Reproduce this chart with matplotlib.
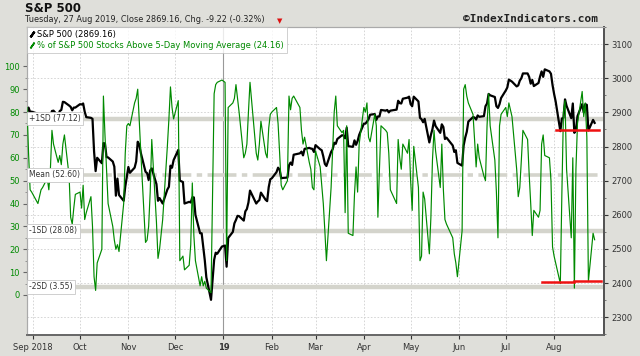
import numpy as np
import pandas as pd
import matplotlib as mpl
mpl.use('Agg')
import matplotlib.pyplot as plt
import matplotlib.dates as mdates
import matplotlib.transforms as mtransforms
from matplotlib.lines import Line2D

# trading days Aug 28 2018 .. Aug 27 2019
holidays = ['2018-09-03', '2018-11-22', '2018-12-05', '2018-12-25', '2019-01-01',
            '2019-01-21', '2019-02-18', '2019-04-19', '2019-05-27', '2019-07-04']

spx_close = [
    2898, 2914, 2901, 2902,  # aug
    2896, 2888, 2878, 2872, 2877, 2888, 2889, 2904, 2905, 2889, 2904, 2907, 2931, 2930, 2920, 2916, 2906, 2914, 2914,
    2924, 2923, 2926, 2902, 2886, 2884, 2881, 2786, 2728, 2767, 2751, 2810, 2809, 2769, 2768, 2756, 2741, 2656, 2706, 2658, 2641, 2682, 2712,
    2740, 2723, 2738, 2756, 2814, 2806, 2781, 2726, 2722, 2702, 2730, 2736, 2690, 2641, 2649, 2633, 2674, 2682, 2744, 2738, 2760,
    2790, 2700, 2696, 2633, 2638, 2636, 2651, 2651, 2600, 2546, 2546, 2507, 2467, 2417, 2351, 2468, 2489, 2486, 2507,
    2510, 2448, 2532, 2550, 2575, 2585, 2597, 2596, 2583, 2610, 2617, 2636, 2671, 2633, 2639, 2643, 2665, 2644, 2640, 2681, 2704,
    2707, 2725, 2738, 2732, 2707, 2708, 2709, 2745, 2753, 2746, 2776, 2780, 2785, 2774, 2793, 2796, 2794, 2793, 2784,
    2804, 2792, 2789, 2771, 2749, 2743, 2784, 2792, 2811, 2808, 2822, 2833, 2832, 2824, 2855, 2801, 2799, 2818, 2805, 2816, 2834,
    2867, 2867, 2873, 2880, 2893, 2895, 2878, 2888, 2888, 2907, 2905, 2907, 2900, 2905, 2908, 2934, 2927, 2926, 2940, 2943, 2946,
    2924, 2918, 2946, 2932, 2884, 2880, 2871, 2881, 2812, 2834, 2851, 2876, 2860, 2840, 2865, 2857, 2822, 2826, 2803, 2784, 2789, 2752,
    2744, 2803, 2826, 2843, 2873, 2886, 2885, 2879, 2891, 2887, 2889, 2918, 2926, 2954, 2950, 2945, 2918, 2913, 2924, 2942,
    2964, 2973, 2996, 2990, 2976, 2979, 2993, 3000, 3014, 3014, 3004, 2984, 2995, 2977, 2986, 3005, 3020, 3004, 3026, 3020, 3013, 2980,
    2954, 2932, 2845, 2882, 2884, 2938, 2919, 2883, 2926, 2840, 2848, 2889, 2924, 2900, 2924, 2922, 2847, 2878, 2869.16,
]

pct_above_5dma = [
    82, 62, 46, 45,
    40, 43, 46, 47, 51, 46, 55, 72, 66, 58, 61, 57, 66, 70, 52, 34, 31, 38, 44,
    45, 38, 48, 33, 36, 43, 30, 8, 2, 14, 20, 87, 70, 55, 40, 30, 24, 20, 22, 19, 40, 62, 74,
    75, 74, 84, 86, 90, 76, 62, 23, 24, 30, 45, 68, 32, 16, 20, 33, 65, 77, 91, 82, 77,
    85, 15, 17, 11, 13, 22, 49, 26, 15, 4, 8, 4, 6, 3, 1, 88, 92, 93, 94,
    93, 15, 82, 84, 86, 92, 86, 80, 60, 62, 66, 80, 93, 62, 59, 66, 76, 62, 60, 73, 79,
    80, 82, 75, 62, 48, 46, 50, 87, 81, 86, 87, 82, 72, 66, 69, 58, 55, 47, 46,
    63, 56, 48, 40, 28, 15, 47, 64, 80, 87, 74, 71, 72, 36, 74, 27, 26, 44, 56, 45, 66,
    82, 80, 84, 69, 67, 79, 74, 34, 55, 74, 72, 71, 62, 46, 40, 68, 60, 55, 66, 62, 68,
    50, 37, 65, 47, 15, 17, 45, 42, 18, 34, 59, 72, 63, 47, 66, 46, 33, 31, 25, 18, 14, 8,
    28, 90, 92, 87, 84, 79, 68, 56, 66, 60, 52, 50, 74, 88, 74, 59, 45, 25, 74, 79,
    82, 78, 84, 78, 55, 43, 47, 59, 72, 68, 53, 40, 26, 37, 34, 37, 66, 70, 61, 60, 50, 21,
    17, 14, 5, 45, 80, 85, 55, 25, 60, 3, 55, 75, 89, 78, 84, 69, 6, 27, 24.16,
]

sd_levels = [77.12, 52.60, 28.08, 3.55]
sd_labels = ['+1SD (77.12)', 'Mean (52.60)', '-1SD (28.08)', '-2SD (3.55)']

month_labels = ['Sep 2018', 'Oct', 'Nov', 'Dec', '19', 'Feb', 'Mar', 'Apr', 'May', 'Jun', 'Jul', 'Aug']

red_top_dates = ['2019-08-02', '2019-08-30']
red_top_level = 2849
red_low_dates = ['2019-07-24', '2019-08-14', '2019-08-31']
red_low_levels = [5.6, 6.1]


def dnum(vals):
    return mdates.date2num(pd.to_datetime(vals).to_pydatetime())


days = pd.bdate_range('2018-08-28', '2019-08-27')
days = days[~days.isin(pd.to_datetime(holidays))]
x = dnum(days)
n = min(len(x), len(spx_close), len(pct_above_5dma))
month_ticks = dnum(pd.date_range('2018-09-01', '2019-08-01', freq='MS'))

GREEN = '#008a00'
fig = plt.figure(figsize=(6.4, 3.56), dpi=100, facecolor='#dfdfda')
ax = fig.add_axes([27/640, 1-335/356, 577/640, 308/356])
ax.set_facecolor('white')
axg = ax.twinx()

# S&P on right-hand scale
ax.plot(x[:n], spx_close[:n], color='black', lw=1.6, zorder=5, solid_joinstyle='round')
ax.set_ylim(2248, 3150)
ax.set_xlim(dnum(['2018-08-28'])[0], dnum(['2019-09-02'])[0])
ax.yaxis.tick_right()
ax.set_yticks(np.arange(2300, 3101, 100))
ax.set_yticks(np.arange(2250, 3151, 50), minor=True)
ax.tick_params(axis='y', which='major', labelsize=6, colors='#333333', length=3, pad=2)
ax.tick_params(axis='y', which='minor', length=1.5, colors='#666666')
ax.set_xticks(month_ticks)
ax.set_xticklabels(month_labels)
ax.tick_params(axis='x', labelsize=6, colors='#333333', length=3, pad=3)
ax.get_xticklabels()[4].set_fontweight('bold')
for i, d in enumerate(month_ticks):
    if month_labels[i] == '19':
        ax.axvline(d, color='#999999', lw=0.8, zorder=1)
    else:
        ax.axvline(d, color='#d0d0d0', lw=0.6, ls=(0, (2, 2)), zorder=1)
for v in np.arange(2300, 3101, 100):
    ax.axhline(v, color='#d0d0d0', lw=0.6, ls=(0, (2, 2)), zorder=1)

# sd bands in green units, but drawn under the black line
band_tr = mtransforms.blended_transform_factory(ax.transAxes, axg.transData)
for lv in sd_levels:
    if lv == 52.60:
        ax.plot([0, 1], [lv, lv], transform=band_tr, color='#d4d4cc', lw=2.6,
                ls=(0, (8, 1.5, 1.5, 1.5)), zorder=2)
    else:
        ax.plot([0, 1], [lv, lv], transform=band_tr, color='#d4d4cc', lw=3.2, zorder=2)

# % above 5 day MA on left scale
axg.plot(x[:n], pct_above_5dma[:n], color=GREEN, lw=0.85, zorder=4)
axg.set_ylim(-17.5, 117.2)
axg.yaxis.tick_left()
axg.set_yticks(np.arange(0, 101, 10))
axg.set_yticks(np.arange(0, 101, 5), minor=True)
axg.tick_params(axis='y', which='major', labelsize=6, colors='#666666', labelcolor=GREEN, length=3, pad=2)
axg.tick_params(axis='y', which='minor', length=1.5, colors='#888888')

for lv, txt in zip(sd_levels, sd_labels):
    axg.text(0.004, lv, txt, transform=band_tr, fontsize=5.5, color='#333333', va='center', ha='left',
             zorder=8, bbox=dict(boxstyle='square,pad=0.3', fc='white', ec='#c8c8c8', lw=0.6))

axg.plot(dnum(red_top_dates), [red_top_level] * 2, color='#ee1111', lw=1.8, transform=ax.transData, zorder=9)
axg.plot(dnum(red_low_dates[:2]), [red_low_levels[0]] * 2, color='#ee1111', lw=1.8, zorder=9)
axg.plot(dnum(red_low_dates[1:]), [red_low_levels[1]] * 2, color='#ee1111', lw=1.8, zorder=9)

for a in (ax, axg):
    for s in a.spines.values():
        s.set_color('#aaaaaa')
        s.set_linewidth(0.8)
    a.spines['right'].set_color('#555555')
    a.spines['right'].set_linewidth(1.4)
    a.spines['bottom'].set_color('#666666')
    a.spines['bottom'].set_linewidth(1.2)

handles = [Line2D([], [], ls='none', color='black', marker=(2, 2, -35), ms=5, mew=1.6),
           Line2D([], [], ls='none', color=GREEN, marker=(2, 2, -35), ms=5, mew=1.2)]
leg = axg.legend(handles, ['S&P 500 (2869.16)',
                           '% of S&P 500 Stocks Above 5-Day Moving Average (24.16)'],
                 loc='upper left', bbox_to_anchor=(0, 1), borderaxespad=0, fontsize=6,
                 handlelength=0.6, handletextpad=0.3, labelspacing=0.25, borderpad=0.35,
                 frameon=True, fancybox=False, labelcolor=['black', GREEN])
leg.get_frame().set_edgecolor('#bbbbbb')
leg.get_frame().set_linewidth(0.6)
leg.set_zorder(20)

fig.text(25/640, 1-8/356, 'S&P 500', fontsize=8.5, fontweight='bold', color='#111111', va='center')
fig.text(25/640, 1-20/356, 'Tuesday, 27 Aug 2019, Close 2869.16, Chg. -9.22 (-0.32%)',
         fontsize=5.9, color='#222222', va='center')
fig.text(280/640, 1-21/356, '\u25BC', fontsize=5, color='#dd1111', va='center', ha='center')
fig.text(463/640, 1-19/356, '\u00A9IndexIndicators.com', fontsize=8, fontweight='bold',
         family='DejaVu Sans Mono', color='#222222', va='center')

fig.savefig('out.png', dpi=100, facecolor=fig.get_facecolor())
